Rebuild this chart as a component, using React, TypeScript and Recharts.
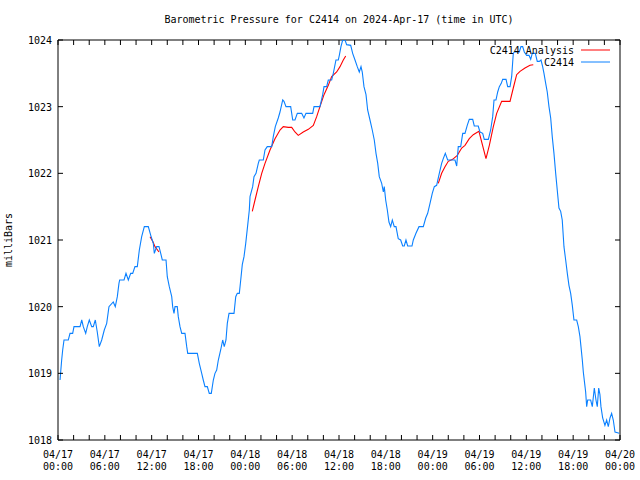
import { LineChart, Line, XAxis, YAxis, Legend, ReferenceArea } from 'recharts';

// hours since 2024-04-17 00:00 UTC
const stationHours = [
  0.26, 0.47, 0.6, 0.77, 1.32, 1.54, 1.88, 2.05, 2.82, 3.04, 3.24, 3.55, 3.75, 4.01, 4.32, 4.52, 4.78, 5.03,
  5.29, 5.6, 5.93, 6.24, 6.53, 7.08, 7.34, 7.6, 7.81, 7.9, 8.46, 8.71, 9.01, 9.31, 9.57, 9.86, 10.16, 10.42,
  10.72, 11.06, 11.57, 11.88, 12.21, 12.34, 12.64, 12.94, 13.16, 13.36, 13.84, 14.0, 14.26, 14.57, 14.69,
  14.86, 14.99, 15.28, 15.41, 15.63, 15.85, 16.27, 16.49, 16.62, 17.85, 18.1, 18.41, 18.61, 18.83, 19.13,
  19.38, 19.64, 19.9, 20.11, 20.33, 20.54, 20.84, 21.1, 21.3, 21.52, 21.69, 21.91, 22.55, 22.77, 22.97,
  23.23, 23.41, 23.61, 23.83, 24.05, 24.3, 24.51, 24.6, 24.94, 25.11, 25.37, 25.66, 25.79, 26.3, 26.52,
  26.81, 27.38, 27.58, 27.84, 28.22, 28.44, 28.79, 28.95, 29.21, 29.81, 30.07, 30.36, 30.66, 31.22, 31.51,
  31.77, 32.63, 32.8, 33.56, 33.91, 34.08, 34.42, 34.63, 35.06, 35.27, 35.61, 35.91, 36.04, 36.25, 36.47,
  36.77, 36.98, 37.5, 37.75, 38.05, 38.34, 38.6, 38.82, 38.98, 39.2, 39.46, 39.67, 39.97, 40.26, 40.52,
  40.74, 40.96, 41.16, 41.47, 41.68, 41.8, 41.98, 42.19, 42.4, 42.62, 42.83, 43.08, 43.3, 43.59, 43.9,
  44.16, 44.36, 44.58, 44.8, 45.35, 45.52, 45.86, 46.25, 46.8, 47.11, 47.36, 47.66, 47.95, 48.21, 48.51,
  48.85, 49.15, 49.36, 49.62, 49.92, 50.86, 51.08, 51.28, 51.59, 51.85, 52.14, 52.43, 52.69, 53.13, 53.33,
  53.84, 54.06, 54.41, 54.61, 55.13, 55.43, 55.69, 55.86, 56.11, 56.33, 56.54, 56.79, 56.97, 57.4, 57.61,
  57.91, 58.12, 58.33, 58.46, 59.1, 59.31, 59.53, 59.74, 60.04, 60.34, 60.56, 60.76, 60.98, 61.15, 61.4,
  61.66, 61.88, 62.09, 62.26, 62.48, 62.68, 62.9, 63.12, 63.32, 63.54, 63.76, 63.96, 64.18, 64.4, 64.6,
  64.82, 65.04, 65.25, 65.46, 65.68, 65.89, 66.1, 66.45, 66.66, 66.87, 67.0, 67.17, 67.3, 67.47, 67.6,
  67.73, 67.86, 68.24, 68.45, 68.71, 68.92, 69.09, 69.27, 69.43, 69.56, 69.78, 70.07, 70.29, 70.5, 70.72,
  70.93, 71.14, 71.36, 71.91,
];
const stationPressure = [
  1018.9, 1019.2, 1019.35, 1019.5, 1019.5, 1019.6, 1019.6, 1019.7, 1019.7, 1019.8, 1019.7, 1019.6, 1019.7,
  1019.8, 1019.7, 1019.7, 1019.8, 1019.62, 1019.4, 1019.5, 1019.65, 1019.75, 1020.0, 1020.07, 1020.0,
  1020.15, 1020.35, 1020.4, 1020.4, 1020.5, 1020.4, 1020.5, 1020.5, 1020.6, 1020.6, 1020.85, 1021.05,
  1021.2, 1021.2, 1021.07, 1020.95, 1020.8, 1020.9, 1020.9, 1020.8, 1020.7, 1020.7, 1020.45, 1020.3,
  1020.15, 1020.0, 1019.9, 1020.0, 1020.0, 1019.85, 1019.7, 1019.6, 1019.6, 1019.4, 1019.3, 1019.3,
  1019.15, 1019.0, 1018.9, 1018.8, 1018.8, 1018.7, 1018.7, 1018.9, 1019.0, 1019.05, 1019.2, 1019.35,
  1019.5, 1019.4, 1019.5, 1019.75, 1019.9, 1019.9, 1020.15, 1020.2, 1020.2, 1020.4, 1020.63, 1020.75,
  1020.95, 1021.22, 1021.45, 1021.65, 1021.8, 1021.95, 1022.0, 1022.15, 1022.2, 1022.2, 1022.35, 1022.4,
  1022.4, 1022.55, 1022.7, 1022.83, 1022.92, 1023.1, 1023.08, 1023.0, 1023.0, 1022.8, 1022.8, 1022.9,
  1022.9, 1022.83, 1022.9, 1022.9, 1023.0, 1023.0, 1023.18, 1023.3, 1023.3, 1023.4, 1023.4, 1023.5,
  1023.7, 1023.7, 1023.77, 1023.9, 1024.0, 1024.0, 1023.93, 1023.92, 1023.8, 1023.7, 1023.6, 1023.52,
  1023.6, 1023.52, 1023.3, 1023.18, 1022.95, 1022.8, 1022.65, 1022.5, 1022.3, 1022.15, 1021.95, 1021.85,
  1021.72, 1021.8, 1021.6, 1021.45, 1021.27, 1021.2, 1021.3, 1021.2, 1021.2, 1021.02, 1021.0, 1020.91,
  1020.91, 1021.0, 1020.91, 1020.91, 1021.0, 1021.1, 1021.2, 1021.2, 1021.33, 1021.4, 1021.55, 1021.7,
  1021.8, 1021.82, 1022.0, 1022.15, 1022.22, 1022.3, 1022.2, 1022.2, 1022.11, 1022.4, 1022.4, 1022.6,
  1022.6, 1022.72, 1022.81, 1022.81, 1022.71, 1022.71, 1022.62, 1022.6, 1022.51, 1022.51, 1022.65,
  1022.85, 1023.1, 1023.1, 1023.22, 1023.3, 1023.35, 1023.41, 1023.41, 1023.3, 1023.3, 1023.45, 1023.8,
  1023.82, 1023.82, 1023.9, 1023.9, 1023.82, 1023.77, 1023.77, 1023.71, 1023.8, 1023.8, 1023.8, 1023.68,
  1023.68, 1023.7, 1023.6, 1023.5, 1023.35, 1023.22, 1023.0, 1022.83, 1022.55, 1022.3, 1022.0, 1021.75,
  1021.48, 1021.43, 1021.3, 1020.9, 1020.7, 1020.5, 1020.32, 1020.2, 1020.02, 1019.8, 1019.8, 1019.7,
  1019.55, 1019.4, 1019.2, 1019.02, 1018.85, 1018.72, 1018.5, 1018.6, 1018.6, 1018.5, 1018.78, 1018.6,
  1018.5, 1018.78, 1018.68, 1018.5, 1018.33, 1018.22, 1018.3, 1018.2, 1018.33, 1018.4, 1018.3, 1018.12,
  1018.1,
];

// analysis runs; null marks a break between runs
const analysisHours = [
  11.79, 12.13, 12.43, 12.94, 18.0,
  24.89, 25.24, 25.66, 26.1, 26.52, 27.16, 27.8, 28.44, 28.86, 29.5, 29.94, 30.36, 30.78, 31.42, 32.07,
  32.71, 33.14, 33.56, 34.08, 34.63, 35.06, 35.7, 36.13, 36.55, 36.86, 42.0,
  48.72, 49.15, 49.58, 50.0, 50.56, 51.15, 51.72, 52.14, 52.69, 53.2, 53.77, 53.93, 54.83, 55.26, 55.77,
  56.2, 56.84, 57.91, 58.33, 58.76, 59.19, 59.83, 60.47, 60.89,
];
const analysisPressure = [
  1021.05, 1020.98, 1020.9, 1020.82, null,
  1021.43, 1021.6, 1021.8, 1022.0, 1022.15, 1022.35, 1022.52, 1022.65, 1022.7, 1022.69, 1022.69, 1022.62,
  1022.57, 1022.62, 1022.66, 1022.72, 1022.85, 1023.0, 1023.18, 1023.32, 1023.45, 1023.52, 1023.6, 1023.7,
  1023.76, null,
  1021.85, 1022.0, 1022.1, 1022.18, 1022.21, 1022.27, 1022.38, 1022.42, 1022.52, 1022.58, 1022.62,
  1022.63, 1022.22, 1022.42, 1022.7, 1022.9, 1023.08, 1023.08, 1023.28, 1023.48, 1023.53, 1023.58,
  1023.62, 1023.63,
];

const hourTicks = [0, 2, 4, 6, 8, 10, 12, 14, 16, 18, 20, 22, 24, 26, 28, 30, 32, 34, 36, 38, 40, 42, 44, 46, 48, 50, 52, 54, 56, 58, 60, 62, 64, 66, 68, 70, 72];
const pressureTicks = [1018, 1019, 1020, 1021, 1022, 1023, 1024];

const stationData = stationHours.map((h, i) => ({ h, p: stationPressure[i] }));
const analysisData = analysisHours.map((h, i) => ({ h, p: analysisPressure[i] }));

const FONT = '"DejaVu Sans Mono", monospace';
const BLUE = '#0a80ff';
const RED = '#ff0000';
const W = 640;
const H = 480;
const TOP = 40;
const LEFT = 58;
const RIGHT = 620;
const BOTTOM = 440;
const TICK = 5;

const pad = (n: number) => String(n).padStart(2, '0');

function XTick({ x, payload }: any) {
  const h = payload.value;
  const showLabel = h % 6 === 0;
  const day = 17 + Math.floor(h / 24);
  return (
    <g>
      <line x1={x} x2={x} y1={BOTTOM} y2={BOTTOM - TICK} stroke="#000" />
      <line x1={x} x2={x} y1={TOP} y2={TOP + TICK} stroke="#000" />
      {showLabel && (
        <text x={x} textAnchor="middle" fontFamily={FONT} fontSize={10} fill="#000">
          <tspan x={x} y={BOTTOM + 18}>{`04/${pad(day)}`}</tspan>
          <tspan x={x} y={BOTTOM + 30}>{`${pad(h % 24)}:00`}</tspan>
        </text>
      )}
    </g>
  );
}

function YTick({ y, payload }: any) {
  return (
    <g>
      <line x1={LEFT} x2={LEFT + TICK} y1={y} y2={y} stroke="#000" />
      <line x1={RIGHT - TICK} x2={RIGHT} y1={y} y2={y} stroke="#000" />
      <text x={LEFT - 6} y={y + 4} textAnchor="end" fontFamily={FONT} fontSize={10} fill="#000">
        {payload.value}
      </text>
    </g>
  );
}

function YLabel({ viewBox }: any) {
  const cx = 12;
  const cy = viewBox.y + viewBox.height / 2;
  return (
    <text x={cx} y={cy} transform={`rotate(-90 ${cx} ${cy})`} textAnchor="middle" fontFamily={FONT} fontSize={10} fill="#000">
      milliBars
    </text>
  );
}

function LegendBox() {
  const rows = [
    { name: 'C2414 Analysis', color: RED },
    { name: 'C2414', color: BLUE },
  ];
  return (
    <svg width={140} height={30} style={{ display: 'block' }}>
      {rows.map((r, i) => (
        <g key={r.name}>
          <text x={94} y={8 + i * 12 + 4} textAnchor="end" fontFamily={FONT} fontSize={10} fill="#000">
            {r.name}
          </text>
          <line x1={101} x2={130} y1={8 + i * 12} y2={8 + i * 12} stroke={r.color} />
        </g>
      ))}
    </svg>
  );
}

export default function App() {
  return (
    <div style={{ position: 'absolute', left: 0, top: 0, width: W, height: H, background: '#fff' }}>
      <div
        style={{
          position: 'absolute',
          left: LEFT,
          width: RIGHT - LEFT,
          top: 14,
          textAlign: 'center',
          fontFamily: FONT,
          fontSize: 10,
          lineHeight: '12px',
        }}
      >
        Barometric Pressure for C2414 on 2024-Apr-17 (time in UTC)
      </div>
      <LineChart width={W} height={H} margin={{ top: TOP, right: W - RIGHT, bottom: 0, left: 8 }}>
        <XAxis
          type="number"
          dataKey="h"
          domain={[0, 72]}
          ticks={hourTicks}
          interval={0}
          height={H - BOTTOM}
          axisLine={false}
          tickLine={false}
          tick={<XTick />}
          allowDataOverflow
        />
        <YAxis
          type="number"
          domain={[1018, 1024]}
          ticks={pressureTicks}
          interval={0}
          width={LEFT - 8}
          axisLine={false}
          tickLine={false}
          tick={<YTick />}
          label={<YLabel />}
          allowDataOverflow
        />
        <ReferenceArea x1={0} x2={72} y1={1018} y2={1024} fill="none" stroke="#000" strokeWidth={1} ifOverflow="visible" />
        <Legend
          layout="horizontal"
          verticalAlign="middle"
          align="center"
          content={<LegendBox />}
          wrapperStyle={{ position: 'absolute', left: 480, top: 42, width: 140, height: 30 }}
        />
        <Line
          data={analysisData}
          dataKey="p"
          name="C2414 Analysis"
          type="linear"
          stroke={RED}
          strokeWidth={1.1}
          dot={false}
          activeDot={false}
          isAnimationActive={false}
        />
        <Line
          data={stationData}
          dataKey="p"
          name="C2414"
          type="linear"
          stroke={BLUE}
          strokeWidth={1.1}
          dot={false}
          activeDot={false}
          isAnimationActive={false}
        />
      </LineChart>
    </div>
  );
}
